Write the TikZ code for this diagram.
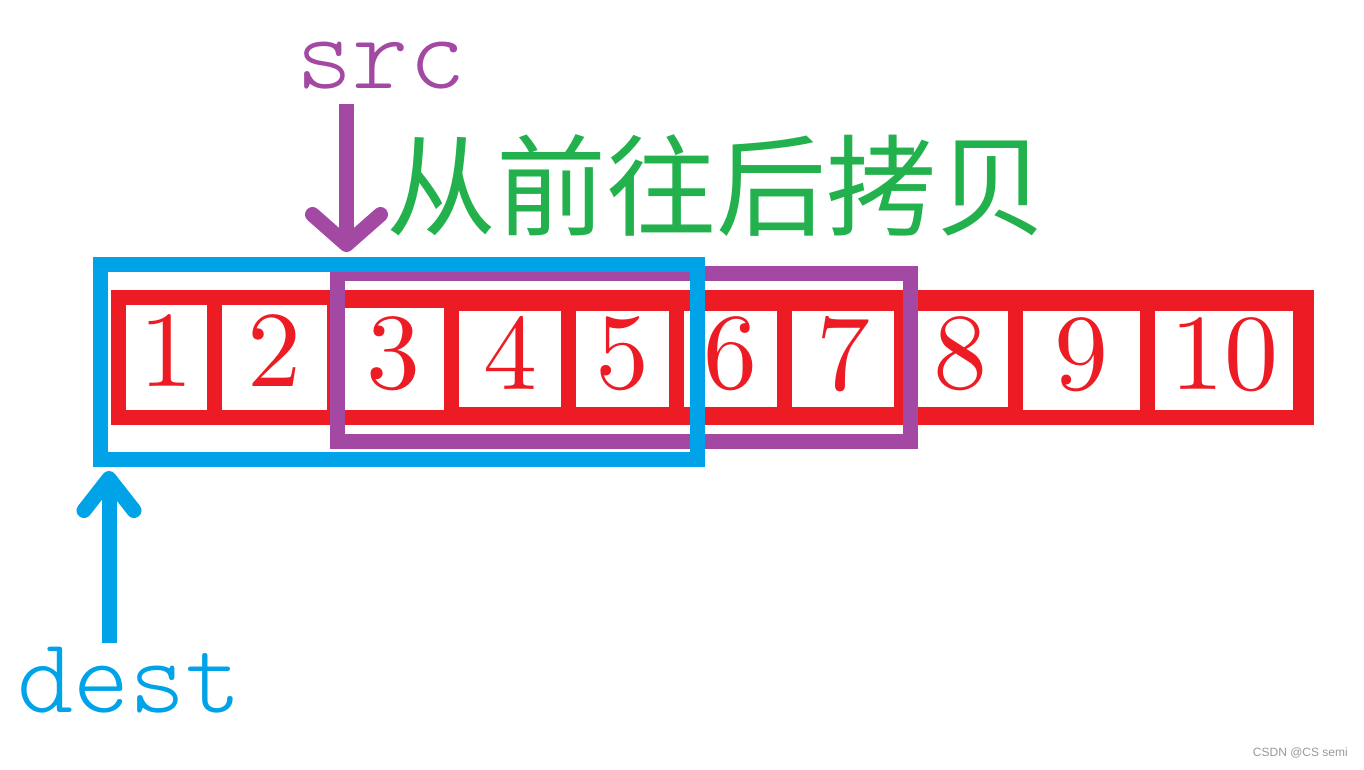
\documentclass[tikz,border=0pt]{standalone}
\usepackage{fontspec}
\newfontfamily\cjkfont{Noto Sans CJK SC}
\newfontfamily\markfont{Liberation Sans}
\newfontfamily\digitfont{lmroman10-regular.otf}
\newfontfamily\ptrfont{lmmonolt10-regular.otf}
\usetikzlibrary{arrows.meta}
\definecolor{paintred}{HTML}{ED1C24}
\definecolor{paintblue}{HTML}{00A2E8}
\definecolor{paintpurple}{HTML}{A349A4}
\definecolor{paintgreen}{HTML}{22B14C}

\begin{document}
\begin{tikzpicture}[x=1pt,y=-1pt,
  cell/.style={fill=white,inner sep=0pt,text=paintred,text depth=13pt,font=\digitfont\fontsize{108}{108}\selectfont},
  window/.style={draw,line width=15pt,inner sep=0pt},
  ptrtext/.style={inner sep=0pt,anchor=base,font=\ptrfont\fontsize{107}{107}\selectfont},
  pointer/.style={line width=15pt}]
\useasboundingbox (0,0) rectangle (1364,769);
\fill[paintred] (111,290) rectangle (1314,425); % the array
\foreach \n/\cx/\cy/\w/\h in {1/166.5/357.5/81/105,2/274.5/357.5/105/105,3/393/359/102/102,
  4/510/359/102/96,5/622.5/359/93/96,6/730.5/359/93/96,7/843/359/102/96,
  8/960/359/96/96,9/1081.5/360.5/117/99,10/1224/360.5/138/99} % edit here for the cells
\node[cell,minimum width=\w pt,minimum height=\h pt] (c\n) at (\cx,\cy) {\n};
\node[window,draw=paintpurple,minimum width=573pt,minimum height=168pt] (srcwin) at (624,357.5) {};
\node[window,draw=paintblue,minimum width=597pt,minimum height=195pt] (destwin) at (399,362) {};
\node[ptrtext,text=paintpurple] (src) at (381,88) {src};
\node[ptrtext,text=paintblue] (dest) at (129.5,712) {dest};
\coordinate (srctop) at (346.5,104);
\coordinate (srctip) at (346.5,252);
\coordinate (destbot) at (109,643);
\coordinate (desttip) at (109,471);
\draw[pointer,paintpurple,-{Straight Barb[round,length=30pt,width=68pt]}] (srctop) -- (srctip);
\draw[pointer,paintblue,-{Straight Barb[round,length=32pt,width=50pt]}] (destbot) -- (desttip);
\node[inner sep=0pt,text=paintgreen,font=\cjkfont\fontsize{110}{110}\selectfont] (copydir) at (716,186) {从前往后拷贝};
\node[inner sep=0pt,anchor=east,text=black!40,font=\markfont\fontsize{12}{12}\selectfont] (mark) at (1348,753) {CSDN @CS semi};
\end{tikzpicture}
\end{document}
